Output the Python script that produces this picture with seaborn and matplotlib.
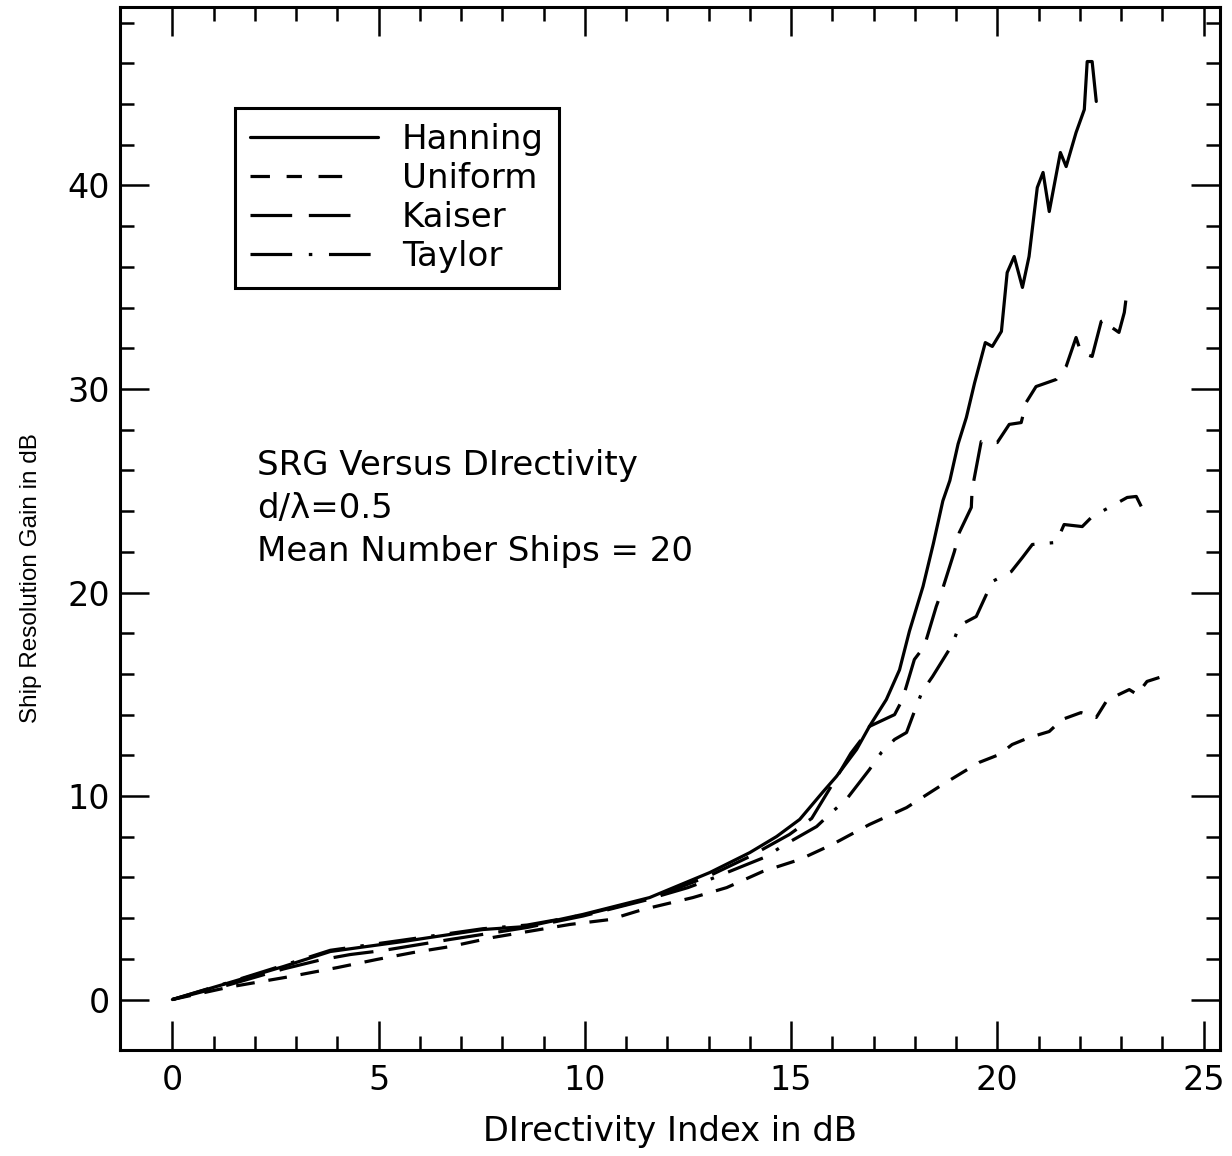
import numpy as np
import pandas as pd
import matplotlib
matplotlib.use("Agg")
import matplotlib.pyplot as plt
import seaborn as sns
from matplotlib.ticker import FixedLocator

# ---------------- data ----------------
labels = ["Hanning", "Uniform", "Kaiser", "Taylor"]

hanning_x = [0, 1.40, 2.69, 3.83, 5.59, 7.53, 8.60, 9.95, 11.57, 13.03, 14.00, 14.65,
             15.21, 15.76, 16.10, 16.59, 16.90, 17.31, 17.63, 17.87, 18.20, 18.45, 18.68,
             18.85, 19.05, 19.25, 19.45, 19.71, 19.88, 20.10, 20.24, 20.41, 20.61, 20.77,
             20.97, 21.11, 21.26, 21.53, 21.67, 21.91, 22.11, 22.18, 22.30, 22.40]
hanning_y = [0, 0.84, 1.62, 2.36, 2.85, 3.44, 3.59, 4.18, 5.01, 6.24, 7.22, 8.01,
             8.85, 10.17, 10.96, 12.29, 13.42, 14.74, 16.20, 18.10, 20.30, 22.40, 24.50,
             25.50, 27.30, 28.60, 30.30, 32.28, 32.09, 32.83, 35.72, 36.51, 34.99, 36.51,
             39.90, 40.64, 38.72, 41.62, 40.93, 42.60, 43.73, 46.09, 46.09, 44.13]

uniform_x = [0, 1.40, 2.86, 4.00, 4.96, 5.84, 6.73, 7.77, 9.64, 10.61, 11.40, 12.62,
             13.44, 14.31, 15.21, 16.00, 16.90, 17.80, 18.60, 19.15, 19.56, 20.05, 20.36,
             20.77, 21.26, 21.57, 22.03, 22.40, 22.64, 22.95, 23.20, 23.39, 23.63, 24.00]
uniform_y = [0, 0.62, 1.13, 1.57, 1.97, 2.31, 2.60, 3.05, 3.69, 3.93, 4.42, 5.01,
             5.50, 6.29, 6.88, 7.62, 8.60, 9.43, 10.47, 11.15, 11.65, 12.04, 12.53,
             12.87, 13.17, 13.76, 14.10, 13.86, 14.64, 14.99, 15.23, 14.99, 15.63, 15.87]

kaiser_x = [0, 1.40, 2.69, 3.60, 4.31, 5.11, 6.73, 8.60, 9.95, 11.57, 13.03, 14.00,
            14.96, 15.50, 16.10, 16.45, 16.75, 16.90, 17.51, 17.70, 17.99, 18.23, 18.52,
            18.67, 18.96, 19.08, 19.37, 19.39, 19.61, 20.00, 20.29, 20.58, 20.70, 20.94,
            21.43, 21.67, 21.91, 22.03, 22.30, 22.52, 22.64, 22.78, 22.95, 23.08, 23.15]
kaiser_y = [0, 0.74, 1.50, 1.95, 2.21, 2.41, 2.95, 3.54, 4.10, 4.93, 6.09, 7.03,
            8.11, 8.90, 10.90, 12.10, 12.90, 13.42, 14.00, 14.74, 16.71, 17.35, 19.31,
            20.15, 22.01, 22.95, 24.18, 25.06, 27.42, 27.37, 28.26, 28.35, 29.34, 30.12,
            30.47, 31.11, 32.53, 31.79, 31.60, 33.32, 33.42, 33.02, 32.78, 33.76, 34.89]

taylor_x = [0, 1.40, 2.69, 3.83, 5.59, 7.53, 8.60, 9.95, 11.57, 12.50, 13.03, 13.92,
            14.41, 14.77, 15.62, 15.98, 16.34, 16.90, 17.19, 17.51, 17.80, 17.99, 18.18,
            18.43, 18.91, 19.08, 19.49, 19.88, 20.34, 20.61, 20.85, 21.43, 21.62, 22.06,
            22.30, 22.76, 23.15, 23.37, 23.49]
taylor_y = [0, 0.86, 1.68, 2.42, 2.92, 3.48, 3.66, 4.15, 4.95, 5.50, 5.90, 6.63,
            7.03, 7.52, 8.50, 9.19, 9.83, 11.30, 12.14, 12.78, 13.12, 14.15, 15.14,
            15.87, 17.44, 18.38, 18.82, 20.54, 21.03, 21.72, 22.36, 22.46, 23.34, 23.24,
            23.73, 24.23, 24.67, 24.72, 24.23]

x_ticks = [0, 5, 10, 15, 20, 25]
y_ticks = [0, 10, 20, 30, 40]
x_minor = list(range(0, 26))
y_minor = list(range(0, 49, 2))
note_lines = ["SRG Versus DIrectivity", "d/\u03bb=0.5", "Mean Number Ships = 20"]

series = {"Hanning": (hanning_x, hanning_y), "Uniform": (uniform_x, uniform_y),
          "Kaiser": (kaiser_x, kaiser_y), "Taylor": (taylor_x, taylor_y)}
df = pd.concat([pd.DataFrame({"x": xs, "y": ys, "series": k}) for k, (xs, ys) in series.items()],
               ignore_index=True)

# ---------------- style ----------------
sns.set_theme(style="ticks", rc={"axes.edgecolor": "black", "text.color": "black",
                                 "axes.labelcolor": "black", "xtick.color": "black",
                                 "ytick.color": "black"})
plt.rcParams["font.family"] = ["DejaVu Sans"]
plt.rcParams["lines.scale_dashes"] = False

W, H = 1232, 1156
fig = plt.figure(figsize=(W / 100, H / 100), dpi=100)
ax = fig.add_axes([120 / W, (H - 1050) / H, 1100 / W, 1043 / H])

dash_map = {"Hanning": "", "Uniform": (13.5, 10), "Kaiser": (29, 11), "Taylor": (27, 11, 2.5, 11)}
sns.lineplot(data=df, x="x", y="y", hue="series", style="series",
             hue_order=labels, style_order=labels,
             palette={k: "black" for k in labels}, dashes=dash_map,
             sort=False, estimator=None, linewidth=2.3, legend=False, ax=ax)

ax.set_xlim(-1.27, 25.4)
ax.set_ylim(-2.48, 48.77)
ax.set_xticks(x_ticks)
ax.set_yticks(y_ticks)
ax.xaxis.set_minor_locator(FixedLocator(x_minor))
ax.yaxis.set_minor_locator(FixedLocator(y_minor))
ax.tick_params(which="both", direction="in", top=True, right=True, width=1.8, colors="black")
ax.tick_params(which="major", length=21, labelsize=24)
ax.tick_params(which="minor", length=10)
ax.tick_params(axis="x", which="major", pad=10)
ax.tick_params(axis="y", which="major", pad=7)
for s in ax.spines.values():
    s.set_linewidth(2.2)
    s.set_color("black")

ax.set_xlabel("DIrectivity Index in dB", fontsize=24.3, labelpad=13)
ax.set_ylabel("Ship Resolution Gain in dB", fontsize=17.5, family=["Liberation Sans", "DejaVu Sans"])
ax.yaxis.set_label_coords(-0.071, 0.4525)

leg = ax.legend(handles=ax.lines[:4], labels=labels, loc="upper left",
                bbox_to_anchor=(235 / W, 1 - 108 / H), bbox_transform=fig.transFigure,
                borderaxespad=0, fontsize=24.5, handlelength=3.76, handletextpad=0.7,
                labelspacing=0.17, borderpad=0.45, frameon=True, fancybox=False,
                edgecolor="black", framealpha=1)
leg.get_frame().set_linewidth(2.2)
legend_dashes = {"Uniform": (14, 12, 11, 12, 17, 60), "Kaiser": (30, 12, 30, 60),
                 "Taylor": (30, 12, 2.5, 12, 30, 60)}
for line, lab in zip(leg.get_lines(), labels):
    if lab in legend_dashes:
        line.set_dashes(legend_dashes[lab])

for i, t in enumerate(note_lines):
    fig.text(257 / W, 1 - (475 + 43 * i) / H, t, fontsize=24.5, va="baseline", ha="left")

fig.savefig("out.png", dpi=100, facecolor="white")
